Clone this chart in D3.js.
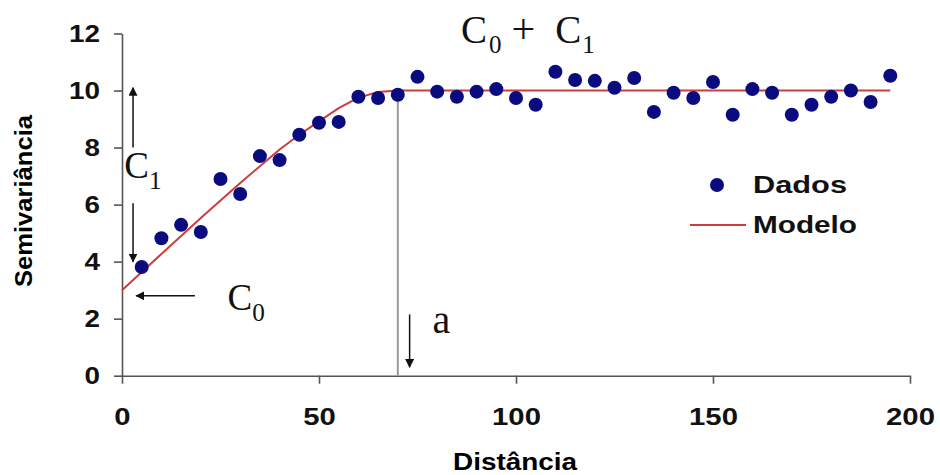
<!DOCTYPE html>
<html>
<head>
<meta charset="utf-8">
<script src="https://cdn.jsdelivr.net/npm/d3@7"></script>
<style>
  body { margin: 0; background: #fff; }
  svg { display: block; }
  .axis path, .axis line { stroke: #555; stroke-width: 1.6; }
  .axis text { font-family: "Liberation Sans", Arial, sans-serif; font-weight: bold; font-size: 24px; fill: #111; }
</style>
</head>
<body>
<div id="chart"></div>
<script>
"use strict";

// Dados (semivariância observada)
var distances = [5, 10, 15, 20, 25, 30, 35, 40, 45, 50, 55, 60, 65, 70, 75, 80, 85, 90, 95, 100,
                 105, 110, 115, 120, 125, 130, 135, 140, 145, 150, 155, 160, 165, 170, 175, 180, 185, 190, 195];
var semivar = [3.81, 4.82, 5.29, 5.04, 6.9, 6.37, 7.7, 7.56, 8.45, 8.87, 8.9, 9.78, 9.74, 9.85, 10.48, 9.96, 9.78, 9.96, 10.05, 9.74,
               9.5, 10.66, 10.37, 10.34, 10.1, 10.44, 9.25, 9.92, 9.74, 10.3, 9.15, 10.05, 9.92, 9.15, 9.5, 9.78, 10.0, 9.6, 10.52];

// Modelo
var modelX = [0, 10, 20, 30, 40, 45, 50, 55, 60, 65, 70, 195];
var modelY = [3.0, 4.27, 5.53, 6.76, 7.93, 8.45, 8.92, 9.38, 9.75, 9.95, 10.0, 10.0];

var xTicks = [0, 50, 100, 150, 200];
var yTicks = [0, 2, 4, 6, 8, 10, 12];
var rangeA = 70;

var width = 940, height = 475;

var svg = d3.select("#chart")
            .append("svg")
            .attr("width", width)
            .attr("height", height);

var defs = svg.append("defs");
defs.append("marker")
    .attr("id", "head")
    .attr("viewBox", "0 0 10 10")
    .attr("refX", 9).attr("refY", 5)
    .attr("markerWidth", 9).attr("markerHeight", 9)
    .attr("markerUnits", "userSpaceOnUse")
    .attr("orient", "auto")
    .append("path")
    .attr("d", "M0,0 L10,5 L0,10 Z")
    .attr("fill", "#111");

// scales
var x = d3.scaleLinear().domain([0, 200]).range([122, 910]);
var y = d3.scaleLinear().domain([0, 12]).range([375.7, 33.5]);

// axes
var xAxis = d3.axisBottom(x).tickValues(xTicks).tickSizeInner(8).tickSizeOuter(0).tickPadding(20);
var yAxis = d3.axisLeft(y).tickValues(yTicks).tickSizeInner(8).tickSizeOuter(0).tickPadding(14);

svg.append("g")
   .attr("class", "axis")
   .attr("transform", "translate(0," + y(0) + ")")
   .call(xAxis)
   .selectAll("text")
   .attr("dy", "0.9em")
   .attr("textLength", function (d) { return String(d).length * 16.3; })
   .attr("lengthAdjust", "spacingAndGlyphs");

svg.append("g")
   .attr("class", "axis")
   .attr("transform", "translate(" + x(0) + ",0)")
   .call(yAxis)
   .selectAll("text")
   .attr("textLength", function (d) { return String(d).length * 15.5; })
   .attr("lengthAdjust", "spacingAndGlyphs");

// axis titles
svg.append("text")
   .attr("transform", "translate(32,201) rotate(-90)")
   .attr("text-anchor", "middle")
   .style("font-family", "Liberation Sans, Arial, sans-serif")
   .style("font-weight", "bold")
   .style("font-size", "23px")
   .attr("textLength", 172)
   .attr("lengthAdjust", "spacingAndGlyphs")
   .text("Semivariância");

svg.append("text")
   .attr("x", 515).attr("y", 470)
   .attr("text-anchor", "middle")
   .style("font-family", "Liberation Sans, Arial, sans-serif")
   .style("font-weight", "bold")
   .style("font-size", "23px")
   .attr("textLength", 124)
   .attr("lengthAdjust", "spacingAndGlyphs")
   .text("Distância");

// range line (a)
svg.append("line")
   .attr("x1", x(rangeA)).attr("x2", x(rangeA))
   .attr("y1", y(0)).attr("y2", y(9.85))
   .attr("stroke", "#999")
   .attr("stroke-width", 2);

// model
var modelPts = d3.zip(modelX, modelY);
var line = d3.line()
             .x(function (d) { return x(d[0]); })
             .y(function (d) { return y(d[1]); });

svg.append("path")
   .datum(modelPts)
   .attr("d", line)
   .attr("fill", "none")
   .attr("stroke", "#cc3d3d")
   .attr("stroke-width", 2);

// data points
svg.selectAll("circle.dado")
   .data(d3.zip(distances, semivar))
   .enter()
   .append("circle")
   .attr("class", "dado")
   .attr("r", 7)
   .attr("cx", function (d) { return x(d[0]); })
   .attr("cy", function (d) { return y(d[1]); })
   .attr("fill", "#0b0b80");

// annotation arrows (in data units)
var arrows = [
  { x1: 2.8, y1: 8.0, x2: 2.8, y2: 10.1 },
  { x1: 2.8, y1: 6.05, x2: 2.8, y2: 4.0 },
  { x1: 18.5, y1: 2.8, x2: 3.6, y2: 2.8 },
  { x1: 73.0, y1: 2.15, x2: 73.0, y2: 0.3 }
];
svg.selectAll("line.arrow")
   .data(arrows)
   .enter()
   .append("line")
   .attr("class", "arrow")
   .attr("x1", function (d) { return x(d.x1); })
   .attr("y1", function (d) { return y(d.y1); })
   .attr("x2", function (d) { return x(d.x2); })
   .attr("y2", function (d) { return y(d.y2); })
   .attr("stroke", "#111")
   .attr("stroke-width", 1.5)
   .attr("marker-end", "url(#head)");

// serif labels
function serifLabel(px, py, main, sub, size) {
  var t = svg.append("text")
             .attr("x", px).attr("y", py)
             .style("font-family", "Liberation Serif, Times New Roman, serif")
             .style("font-size", size + "px")
             .attr("fill", "#111");
  t.append("tspan").text(main);
  if (sub) {
    t.append("tspan").attr("dy", 11).style("font-size", (size * 0.68) + "px").text(sub);
  }
  return t;
}

serifLabel(x(0.6), y(6.95), "C", "1", 37);
serifLabel(x(26.8), y(2.3), "C", "0", 37);
svg.append("text")
   .attr("x", x(78.8)).attr("y", y(1.5))
   .style("font-family", "Liberation Serif, Times New Roman, serif")
   .style("font-size", "40px")
   .attr("fill", "#111")
   .text("a");

var sill = svg.append("text")
              .attr("x", 461).attr("y", 43)
              .style("font-family", "Liberation Serif, Times New Roman, serif")
              .style("font-size", "39px")
              .attr("fill", "#111");
sill.append("tspan").text("C");
sill.append("tspan").attr("dy", 10).attr("dx", 2).style("font-size", "25px").text("0");
sill.append("tspan").attr("dy", -10).attr("dx", 10).style("font-size", "42px").text("+");
sill.append("tspan").attr("dx", 20).text("C");
sill.append("tspan").attr("dy", 10).attr("dx", 1).style("font-size", "25px").text("1");

// legend
var legend = svg.append("g");
legend.append("circle")
      .attr("cx", 717).attr("cy", 185).attr("r", 7)
      .attr("fill", "#0b0b80");
legend.append("line")
      .attr("x1", 690).attr("x2", 746)
      .attr("y1", 225).attr("y2", 225)
      .attr("stroke", "#cc3d3d").attr("stroke-width", 2);
legend.selectAll("text")
      .data([["Dados", 193, 94], ["Modelo", 233, 104]])
      .enter()
      .append("text")
      .attr("x", 753)
      .attr("y", function (d) { return d[1]; })
      .style("font-family", "Liberation Sans, Arial, sans-serif")
      .style("font-weight", "bold")
      .style("font-size", "23px")
      .attr("textLength", function (d) { return d[2]; })
      .attr("lengthAdjust", "spacingAndGlyphs")
      .attr("fill", "#111")
      .text(function (d) { return d[0]; });
</script>
</body>
</html>
